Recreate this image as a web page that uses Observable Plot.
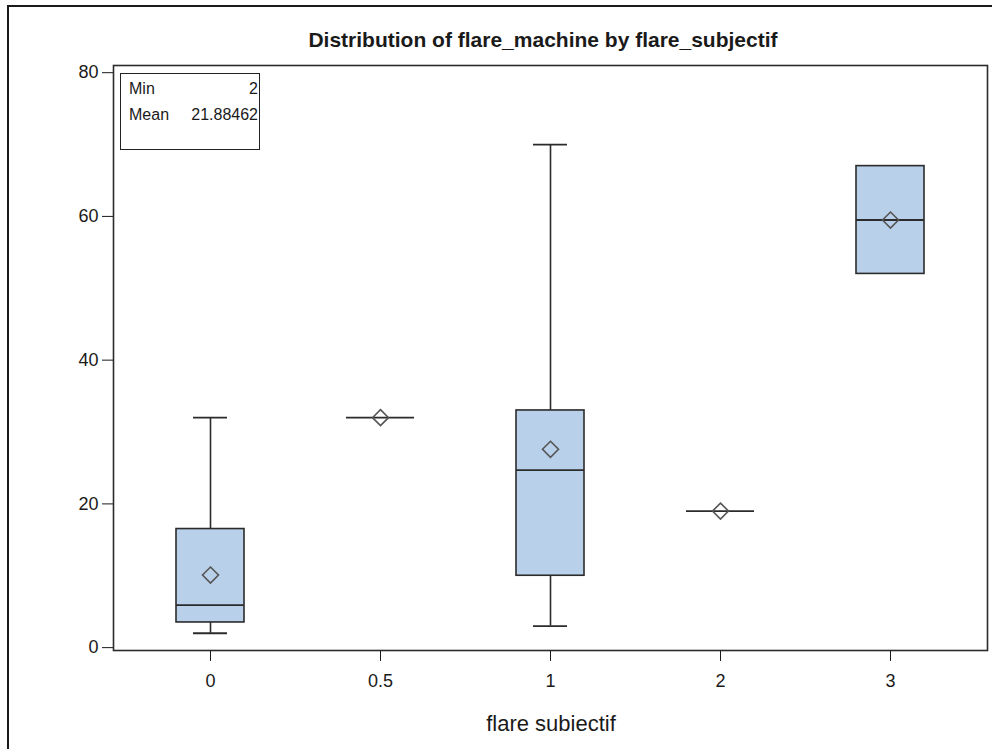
<!DOCTYPE html>
<html>
<head>
<meta charset="utf-8">
<script src="https://cdn.jsdelivr.net/npm/d3@7"></script>
<script src="https://cdn.jsdelivr.net/npm/@observablehq/plot@0.6"></script>
<style>
  html, body { margin: 0; padding: 0; background: #fff; }
  #wrap { position: relative; width: 992px; height: 749px; overflow: hidden; font-family: "Liberation Sans", Arial, sans-serif; color: #1a1a1a; }
  #outer { position: absolute; left: 7px; top: 5px; width: 1200px; height: 1200px; border-left: 2px solid #1a1a1a; border-top: 2px solid #1a1a1a; }
  #chart { position: absolute; left: 0; top: 0; }
  #title { position: absolute; left: 0; width: 1086px; top: 29px; text-align: center; font-weight: bold; font-size: 21px; line-height: 21px; }
  #xlabel { position: absolute; left: 0; width: 1102px; top: 713px; text-align: center; font-size: 22px; line-height: 22px; }
  #inset { position: absolute; left: 120px; top: 73px; width: 140px; height: 77px; border: 1.5px solid #222; box-sizing: border-box; }
  .row { position: absolute; left: 8px; width: 129px; font-size: 16px; line-height: 16px; }
  .row .v { position: absolute; right: 0; top: 0; }
</style>
</head>
<body>
<div id="wrap">
  <div id="outer"></div>
  <div id="chart"></div>
  <div id="title"></div>
  <div id="xlabel"></div>
  <div id="inset"></div>
</div>
<script>
const titleText = "Distribution of flare_machine by flare_subjectif";
const xLabelText = "flare subiectif";
const categories = ["0", "0.5", "1", "2", "3"];
const whiskerLow = [2, null, 3, null, null];
const q1 = [3.5, null, 10, null, 52];
const median = [5.9, 32, 24.7, 19, 59.5];
const q3 = [16.5, null, 33, null, 67];
const whiskerHigh = [32, null, 70, null, null];
const mean = [10.1, 32, 27.6, 19, 59.5];
const yTicks = [0, 20, 40, 60, 80];
const statLabels = ["Min", "Mean"];
const statValues = ["2", "21.88462"];

const rows = categories.map((c, i) => ({
  cat: c, lo: whiskerLow[i], q1: q1[i], med: median[i], q3: q3[i], hi: whiskerHigh[i], mean: mean[i]
}));
const whiskerRows = rows.filter(d => d.lo != null && d.hi != null);
const boxRows = rows.filter(d => d.q1 != null && d.q3 != null);

const ink = "#2b2b2b";
const chart = Plot.plot({
  width: 992,
  height: 749,
  marginLeft: 113,
  marginRight: 5,
  marginTop: 65,
  marginBottom: 99,
  style: { fontFamily: "Liberation Sans, Arial, sans-serif", fontSize: "18px", color: "#1a1a1a", background: "transparent" },
  x: { type: "band", domain: categories, paddingInner: 0.6, paddingOuter: 0.363, tickSize: 11, tickPadding: 13, label: null },
  y: { domain: [-0.4, 81], ticks: yTicks, tickSize: 11, tickPadding: 4, label: null },
  marks: [
    Plot.ruleX(whiskerRows, { x: "cat", y1: "lo", y2: "hi", stroke: ink, strokeWidth: 1.6 }),
    Plot.tickY(whiskerRows, { x: "cat", y: "lo", insetLeft: 17, insetRight: 17, stroke: ink, strokeWidth: 1.8 }),
    Plot.tickY(whiskerRows, { x: "cat", y: "hi", insetLeft: 17, insetRight: 17, stroke: ink, strokeWidth: 1.8 }),
    Plot.barY(boxRows, { x: "cat", y1: "q1", y2: "q3", fill: "#B9D0EA", stroke: ink, strokeWidth: 1.6 }),
    Plot.tickY(rows, { x: "cat", y: "med", stroke: ink, strokeWidth: 1.8 }),
    Plot.dot(rows, { x: "cat", y: "mean", symbol: "diamond2", r: 7.2, stroke: "#555", strokeWidth: 1.6, fill: "none" }),
    Plot.frame({ stroke: ink, strokeWidth: 1.6 })
  ]
});
document.getElementById("chart").appendChild(chart);
document.getElementById("title").textContent = titleText;
document.getElementById("xlabel").textContent = xLabelText;

const inset = document.getElementById("inset");
const tops = [7, 33];
statLabels.forEach((lab, i) => {
  const r = document.createElement("div");
  r.className = "row";
  r.style.top = tops[i] + "px";
  r.textContent = lab;
  const v = document.createElement("span");
  v.className = "v";
  v.textContent = statValues[i];
  r.appendChild(v);
  inset.appendChild(r);
});
</script>
</body>
</html>
